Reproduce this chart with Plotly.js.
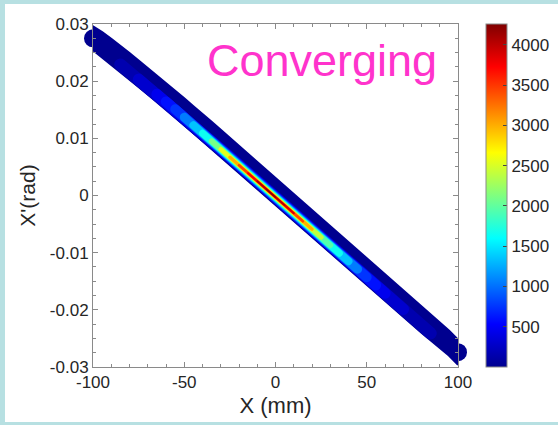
<!DOCTYPE html>
<html>
<head>
<meta charset="utf-8">
<script src="https://cdn.plot.ly/plotly-3.0.1.min.js"></script>
<style>
  html, body { margin: 0; padding: 0; background: #b7e0e2; overflow: hidden; }
  #wrap { position: absolute; left: 0; top: 0; width: 558px; height: 425px; background: #b7e0e2; overflow: hidden; }
  #chart { position: absolute; left: 5px; top: 4px; width: 620px; height: 418px; background: #fff; }
  #chart .scatterlayer .js-line { stroke-linecap: round; }
</style>
</head>
<body>
<div id="wrap"><div id="chart"></div></div>
<script>
// ---- data ----
const xPos = [-100,-95,-90,-85,-80,-75,-70,-65,-60,-55,-50,-45,-40,-35,-30,-25,-20,-15,-10,-5,0,5,10,15,20,25,30,35,40,45,50,55,60,65,70,75,80,85,90,95,100];
const bandUpper = [0.0296,0.0286,0.0274,0.0262,0.0249,0.0236,0.0223,0.0210,0.0197,0.0184,0.0170,0.0156,0.0143,0.0129,0.0115,0.0101,0.0087,0.0073,0.0059,0.0045,0.0031,0.0017,0.0003,-0.0011,-0.0025,-0.0039,-0.0053,-0.0067,-0.0081,-0.0095,-0.0109,-0.0123,-0.0137,-0.0151,-0.0165,-0.0179,-0.0193,-0.0207,-0.0221,-0.0236,-0.0252];
const bandLower = [0.0254,0.0242,0.0229,0.0216,0.0203,0.0190,0.0177,0.0164,0.0151,0.0138,0.0124,0.0110,0.0096,0.0082,0.0068,0.0054,0.0040,0.0026,0.0012,-0.0002,-0.0016,-0.0030,-0.0044,-0.0058,-0.0072,-0.0086,-0.0100,-0.0114,-0.0128,-0.0142,-0.0156,-0.0170,-0.0184,-0.0198,-0.0212,-0.0226,-0.0240,-0.0254,-0.0267,-0.0280,-0.0296];
const ridgeY = [0.0267,0.0255,0.0242,0.0229,0.0216,0.0203,0.0190,0.0177,0.0164,0.0151,0.0137,0.0123,0.0109,0.0095,0.0081,0.0067,0.0053,0.0039,0.0025,0.0011,-0.0003,-0.0017,-0.0031,-0.0045,-0.0059,-0.0073,-0.0087,-0.0101,-0.0115,-0.0129,-0.0143,-0.0157,-0.0171,-0.0185,-0.0199,-0.0213,-0.0227,-0.0241,-0.0254,-0.0267,-0.0283];
const ridgeDensity = [90,110,140,180,230,300,400,520,670,860,1100,1380,1720,2150,2620,3100,3500,3850,4050,4200,4250,4150,3900,3500,3000,2500,2080,1700,1370,1090,860,680,530,420,330,260,200,160,130,110,90];
const densityMax = 4260;
const xTickVals = [-100,-50,0,50,100];
const xTickText = ["-100","-50","0","50","100"];
const yTickVals = [-0.03,-0.02,-0.01,0,0.01,0.02,0.03];
const yTickText = ["-0.03","-0.02","-0.01","0","0.01","0.02","0.03"];
const cbTickVals = [500,1000,1500,2000,2500,3000,3500,4000];
const cbTickText = ["500","1000","1500","2000","2500","3000","3500","4000"];

// ---- styling ----
const jetStops = [[0,[0,0,143]],[0.125,[0,0,255]],[0.375,[0,255,255]],[0.625,[255,255,0]],[0.875,[255,0,0]],[1,[128,0,0]]];
const jetScale = jetStops.map(s => [s[0], 'rgb(' + s[1].join(',') + ')']);
function jet(v) {
  const t = Math.max(0, Math.min(1, v / densityMax));
  for (let i = 1; i < jetStops.length; i++) {
    if (t <= jetStops[i][0]) {
      const a = jetStops[i-1], b = jetStops[i];
      const f = (t - a[0]) / (b[0] - a[0]);
      const c = a[1].map((ca, k) => Math.round(ca + f * (b[1][k] - ca)));
      return 'rgb(' + c.join(',') + ')';
    }
  }
  return 'rgb(128,0,0)';
}
const baseColor = jet(0);
const fontFam = '"Liberation Sans", Arial, Helvetica, sans-serif';
const txtColor = '#262626';
const axColor = '#8a8a8a';

const traces = [];
// outer envelope of particles
traces.push({
  type: 'scatter', mode: 'lines',
  x: xPos.concat(xPos.slice().reverse()),
  y: bandUpper.concat(bandLower.slice().reverse()),
  fill: 'toself', fillcolor: baseColor,
  line: {width: 2, color: baseColor},
  hoverinfo: 'skip', showlegend: false
});
// rounded ends
traces.push({
  type: 'scatter', mode: 'markers',
  x: [xPos[0], xPos[xPos.length-1]],
  y: [(bandUpper[0]+bandLower[0])/2, (bandUpper[bandUpper.length-1]+bandLower[bandLower.length-1])/2],
  marker: {size: 18, color: baseColor},
  cliponaxis: false, hoverinfo: 'skip', showlegend: false
});
// density core: nested levels
for (let L = 150; L <= 4200; L += 150) {
  const xs = [], ys = [];
  ridgeDensity.forEach((d, i) => { if (d >= L) { xs.push(xPos[i]); ys.push(ridgeY[i]); } });
  if (xs.length < 2) continue;
  const w = 1.5 + 11.5 * Math.pow(1 - L / densityMax, 1.7);
  traces.push({
    type: 'scatter', mode: 'lines', x: xs, y: ys,
    line: {width: w, color: jet(L)},
    hoverinfo: 'skip', showlegend: false
  });
}
// colorbar carrier
traces.push({
  type: 'scatter', mode: 'markers', x: xPos, y: ridgeY,
  marker: {
    color: ridgeDensity, colorscale: jetScale, cmin: 0, cmax: densityMax, opacity: 0, size: 2,
    showscale: true,
    colorbar: {
      thickness: 21, thicknessmode: 'pixels',
      len: 343, lenmode: 'pixels',
      x: 1 + 28/365, xanchor: 'left', y: 1, yanchor: 'top',
      xpad: 0, ypad: 0,
      outlinecolor: axColor, outlinewidth: 1,
      ticks: 'inside', ticklen: 4, tickcolor: '#444',
      tickvals: cbTickVals, ticktext: cbTickText,
      tickfont: {family: fontFam, size: 17, color: txtColor}
    }
  },
  hoverinfo: 'skip', showlegend: false
});

const layout = {
  width: 620, height: 418,
  margin: {l: 88, r: 167, t: 20, b: 55},
  paper_bgcolor: '#fff', plot_bgcolor: '#fff',
  showlegend: false,
  font: {family: fontFam, color: txtColor, size: 17},
  xaxis: {
    range: [-100, 100], tickvals: xTickVals, ticktext: xTickText,
    ticks: 'inside', ticklen: 5, tickcolor: axColor,
    showline: true, linecolor: axColor, mirror: 'ticks',
    showgrid: false, zeroline: false,
    minor: {dtick: 10, tick0: 0, ticks: 'inside', ticklen: 3, tickcolor: axColor},
    tickfont: {family: fontFam, size: 17, color: txtColor},
    title: {text: 'X (mm)', font: {family: fontFam, size: 22, color: txtColor}, standoff: 6}
  },
  yaxis: {
    range: [-0.03, 0.03], tickvals: yTickVals, ticktext: yTickText,
    ticks: 'inside', ticklen: 5, tickcolor: axColor,
    showline: true, linecolor: axColor, mirror: 'ticks',
    showgrid: false, zeroline: false,
    minor: {dtick: 0.0025, tick0: 0, ticks: 'inside', ticklen: 3, tickcolor: axColor},
    tickfont: {family: fontFam, size: 17, color: txtColor},
    title: {text: "X'(rad)", font: {family: fontFam, size: 21, color: txtColor}, standoff: 8}
  },
  annotations: [{
    text: 'Converging', xref: 'paper', yref: 'paper',
    x: 0.627, y: 0.895, xanchor: 'center', yanchor: 'middle', showarrow: false,
    font: {family: fontFam, size: 45, color: '#ff33cc'}
  }]
};

Plotly.newPlot('chart', traces, layout, {displayModeBar: false, staticPlot: true});
</script>
</body>
</html>
